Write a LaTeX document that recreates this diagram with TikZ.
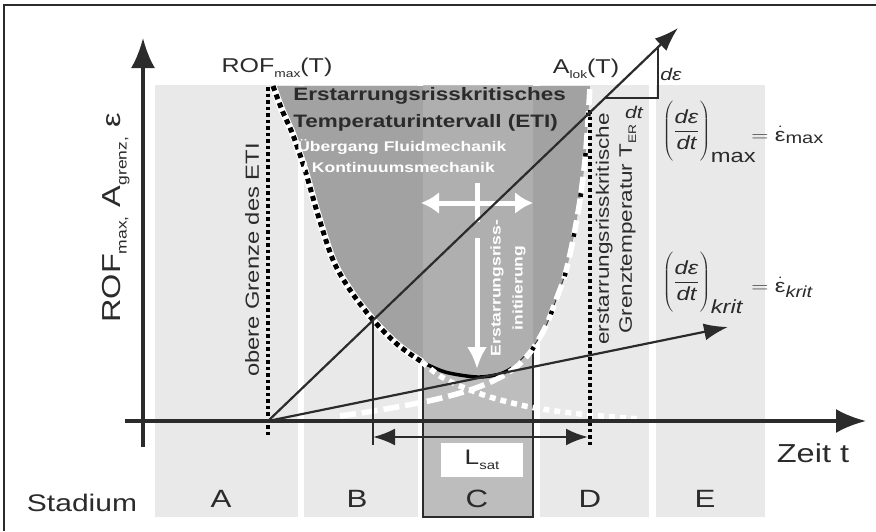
\documentclass[tikz,border=0pt]{standalone}
\usepackage{fix-cm}
\usepackage{fontspec}
\setmainfont{Liberation Sans}
\usetikzlibrary{arrows.meta}
\definecolor{StageGray}{HTML}{E9E9E9}
\definecolor{StageDark}{HTML}{BDBDBD}
\definecolor{EtiGray}{HTML}{A2A2A2}
\definecolor{EtiLight}{HTML}{AFAFAF}
\definecolor{Ink}{HTML}{2B2B2B}
\newcommand{\lowsub}[2][11]{\raisebox{-0.45ex}{\fontsize{#1}{#1}\selectfont #2}}
\newcommand{\etiShape}{plot[smooth, tension=0.6] coordinates {(273,86) (282,110) (293,135) (305,170) (318,215) (333,260) (350,290) (373,320) (398,345) (422,362) (445,372) (477,377) (500,374) (517,364) (532,348) (546,326) (556,300) (565,275) (573,240) (580,200) (585,160) (588,120) (590,86)} -- cycle}

\begin{document}
\begin{tikzpicture}[x=1pt, y=-1pt,
    stage/.style={fill=StageGray},
    lbl/.style={text=Ink, inner sep=0pt, xscale=1.25, transform shape},
    fs/.style={font=\fontsize{#1}{#1}\selectfont},
    axis/.style={draw=Ink, line width=3.5pt, -{Latex[length=30pt, width=24pt]}},
    ray/.style={draw=Ink, line width=2.2pt, -{Latex[length=24pt, width=17pt]}},
    blackdots/.style={draw=black, line width=4pt, dash pattern=on 3.5pt off 3pt},
    whitearrow/.style={draw=white, line width=5pt}]
  \useasboundingbox (0,0) rectangle (876,531);
  \fill[white] (0,0) rectangle (876,531);
  \draw[Ink, line width=1.5pt] (4,531) -- (4,5) -- (876,5);

  % Stadien
  \fill[stage] (155,85) rectangle (298,517);
  \fill[stage] (304,85) rectangle (418,517);
  \fill[StageDark] (423,85) rectangle (533,517);
  \fill[stage] (540,85) rectangle (649,517);
  \fill[stage] (656,85) rectangle (765,517);

  % ETI
  \fill[EtiGray] \etiShape;
  \begin{scope}
    \clip \etiShape;
    \fill[EtiLight] (423,85) rectangle (533,400);
  \end{scope}
  \draw[Ink, line width=2pt] (423,362) -- (423,517) -- (533,517) -- (533,348);
  \draw[black, line width=3.5pt] plot[smooth] coordinates {(420,361) (445,372) (477,377) (500,374) (512,368)};
  \draw[Ink, line width=0.8pt] plot[smooth] coordinates {(512,368) (532,348) (546,326) (556,300) (565,275)};

  % ROF_max
  \draw[white, line width=7pt] plot[smooth] coordinates {(273,86) (282,110) (293,135) (305,170) (318,215) (333,260) (350,290) (373,320) (398,345) (422,362)};
  \draw[black, line width=5pt, dash pattern=on 5pt off 4pt] plot[smooth] coordinates {(273,86) (282,110) (293,135) (305,170) (318,215) (333,260) (350,290) (373,320) (398,345) (422,362)};
  \draw[white, line width=5.5pt, dash pattern=on 6pt off 5pt] plot[smooth] coordinates {(422,362) (440,376) (460,386) (490,397) (530,407) (580,414) (640,419)};

  % A_grenz
  \draw[white, line width=5.5pt, dash pattern=on 16pt off 6pt] plot[smooth] coordinates {(340,416) (380,410) (433,400) (470,390) (495,380) (515,368) (532,350) (546,326) (556,300) (565,275) (573,240) (580,200) (585,160) (588,120) (590,86)};
  \draw[black, line width=4.5pt, dash pattern=on 3.5pt off 37pt] plot[smooth] coordinates {(532,350) (546,326) (556,300) (565,275) (573,240) (580,200) (585,160) (588,120) (590,86)};

  % Grenzen
  \coordinate (oben1) at (268,87);
  \coordinate (oben2) at (268,437);
  \coordinate (ter1) at (590,110);
  \coordinate (ter2) at (590,445);
  \draw[blackdots] (oben1) -- (oben2);
  \draw[blackdots] (ter1) -- (ter2);

  % Achsen
  \coordinate (yb) at (143,447);
  \coordinate (yt) at (143,38);
  \coordinate (xl) at (125,421);
  \coordinate (xr) at (866,421);
  \draw[axis] (yb) -- (yt);
  \draw[axis] (xl) -- (xr);

  % Uebergang
  \coordinate (hl) at (421,203);
  \coordinate (hr) at (533,203);
  \coordinate (vt) at (477,183);
  \coordinate (vm) at (477,222);
  \coordinate (vn) at (477,238);
  \coordinate (vb) at (477,369);
  \draw[whitearrow, {Latex[length=18pt, width=22pt]}-{Latex[length=18pt, width=22pt]}] (hl) -- (hr);
  \draw[whitearrow] (vt) -- (vm);
  \draw[whitearrow, -{Latex[length=22pt, width=20pt]}] (vn) -- (vb);

  % Dehnraten
  \coordinate (O) at (268,421);
  \coordinate (lok) at (678,28);
  \coordinate (krit) at (728,327);
  \draw[ray] (O) -- (lok);
  \draw[ray] (O) -- (krit);
  \coordinate (dtA) at (604,98);
  \coordinate (dtB) at (658,98);
  \coordinate (dtC) at (658,46);
  \draw[Ink, line width=1.5pt] (dtA) -- (dtB) -- (dtC);

  % L_sat
  \coordinate (st1) at (373,320);
  \coordinate (st2) at (373,445);
  \coordinate (LsL) at (373,437);
  \coordinate (LsR) at (588,437);
  \draw[Ink, line width=1.5pt] (st1) -- (st2);
  \draw[Ink, line width=2.5pt, {Latex[length=22pt, width=17pt]}-{Latex[length=22pt, width=17pt]}] (LsL) -- (LsR);
  \node[lbl, fs=21, fill=white, minimum width=65pt, minimum height=34pt] (lsat) at (482,460) {L\lowsub[12]{sat}};

  % Beschriftung
  \node[lbl, fs=24] (stadium) at (82,503) {Stadium};
  \node[lbl, fs=25] (stA) at (221,499) {A};
  \node[lbl, fs=25] (stB) at (357,499) {B};
  \node[lbl, fs=25] (stC) at (477,499) {C};
  \node[lbl, fs=25] (stD) at (590,499) {D};
  \node[lbl, fs=25] (stE) at (705,499) {E};
  \node[lbl, fs=26] (zeit) at (813,453) {Zeit t};
  \node[lbl, fs=20] (rof) at (277,68) {ROF\lowsub{max}(T)};
  \node[lbl, fs=20] (alok) at (586,69) {A\lowsub{lok}(T)};
  \node[lbl, fs=17] (deps) at (671,74) {\itshape dε};
  \node[lbl, fs=17] (dt) at (634,112) {\itshape dt};
  \node[rotate=90, lbl, fs=26] (ylab) at (116,218) {ROF\lowsub[14]{max,} A\lowsub[14]{grenz,} ε};
  \node[rotate=90, lbl, fs=19] (obere) at (252,260) {obere Grenze des ETI};
  \node[rotate=90, lbl, align=center, font=\fontsize{18}{23}\selectfont] (ter) at (616,229) {erstarrungsrisskritische\\Grenztemperatur T\lowsub{ER}};
  \node[lbl, anchor=north west, align=left, font=\fontsize{18}{27}\selectfont\bfseries] (eti) at (293,87) {Erstarrungsrisskritisches\\Temperaturintervall (ETI)};
  \node[lbl, anchor=north west, align=left, text=white, font=\fontsize{14}{21}\selectfont\bfseries] (trans) at (297,139) {Übergang Fluidmechanik\\\hspace{4pt}/ Kontinuumsmechanik};
  \node[rotate=90, lbl, text=white, align=center, font=\fontsize{14}{22}\selectfont\bfseries] (init) at (508,288) {Erstarrungsriss-\\initiierung};
  \node[lbl, anchor=base west, fs=19] (rmax) at (662,136) {$\displaystyle\left(\rule[-26pt]{0pt}{54pt}\frac{\mbox{\itshape dε}}{\mbox{\itshape dt}}\right)_{\mbox{max}}$};
  \node[lbl, anchor=base west, fs=19] (emax) at (751,141) {$=\dot{\mbox{ε}}_{\mbox{\fontsize{16}{16}\selectfont max}}$};
  \node[lbl, anchor=base west, fs=19] (rkrit) at (662,287) {$\displaystyle\left(\rule[-26pt]{0pt}{54pt}\frac{\mbox{\itshape dε}}{\mbox{\itshape dt}}\right)_{\mbox{\itshape krit}}$};
  \node[lbl, anchor=base west, fs=19] (ekrit) at (751,292) {$=\dot{\mbox{ε}}_{\mbox{\fontsize{16}{16}\selectfont\itshape krit}}$};
\end{tikzpicture}
\end{document}
